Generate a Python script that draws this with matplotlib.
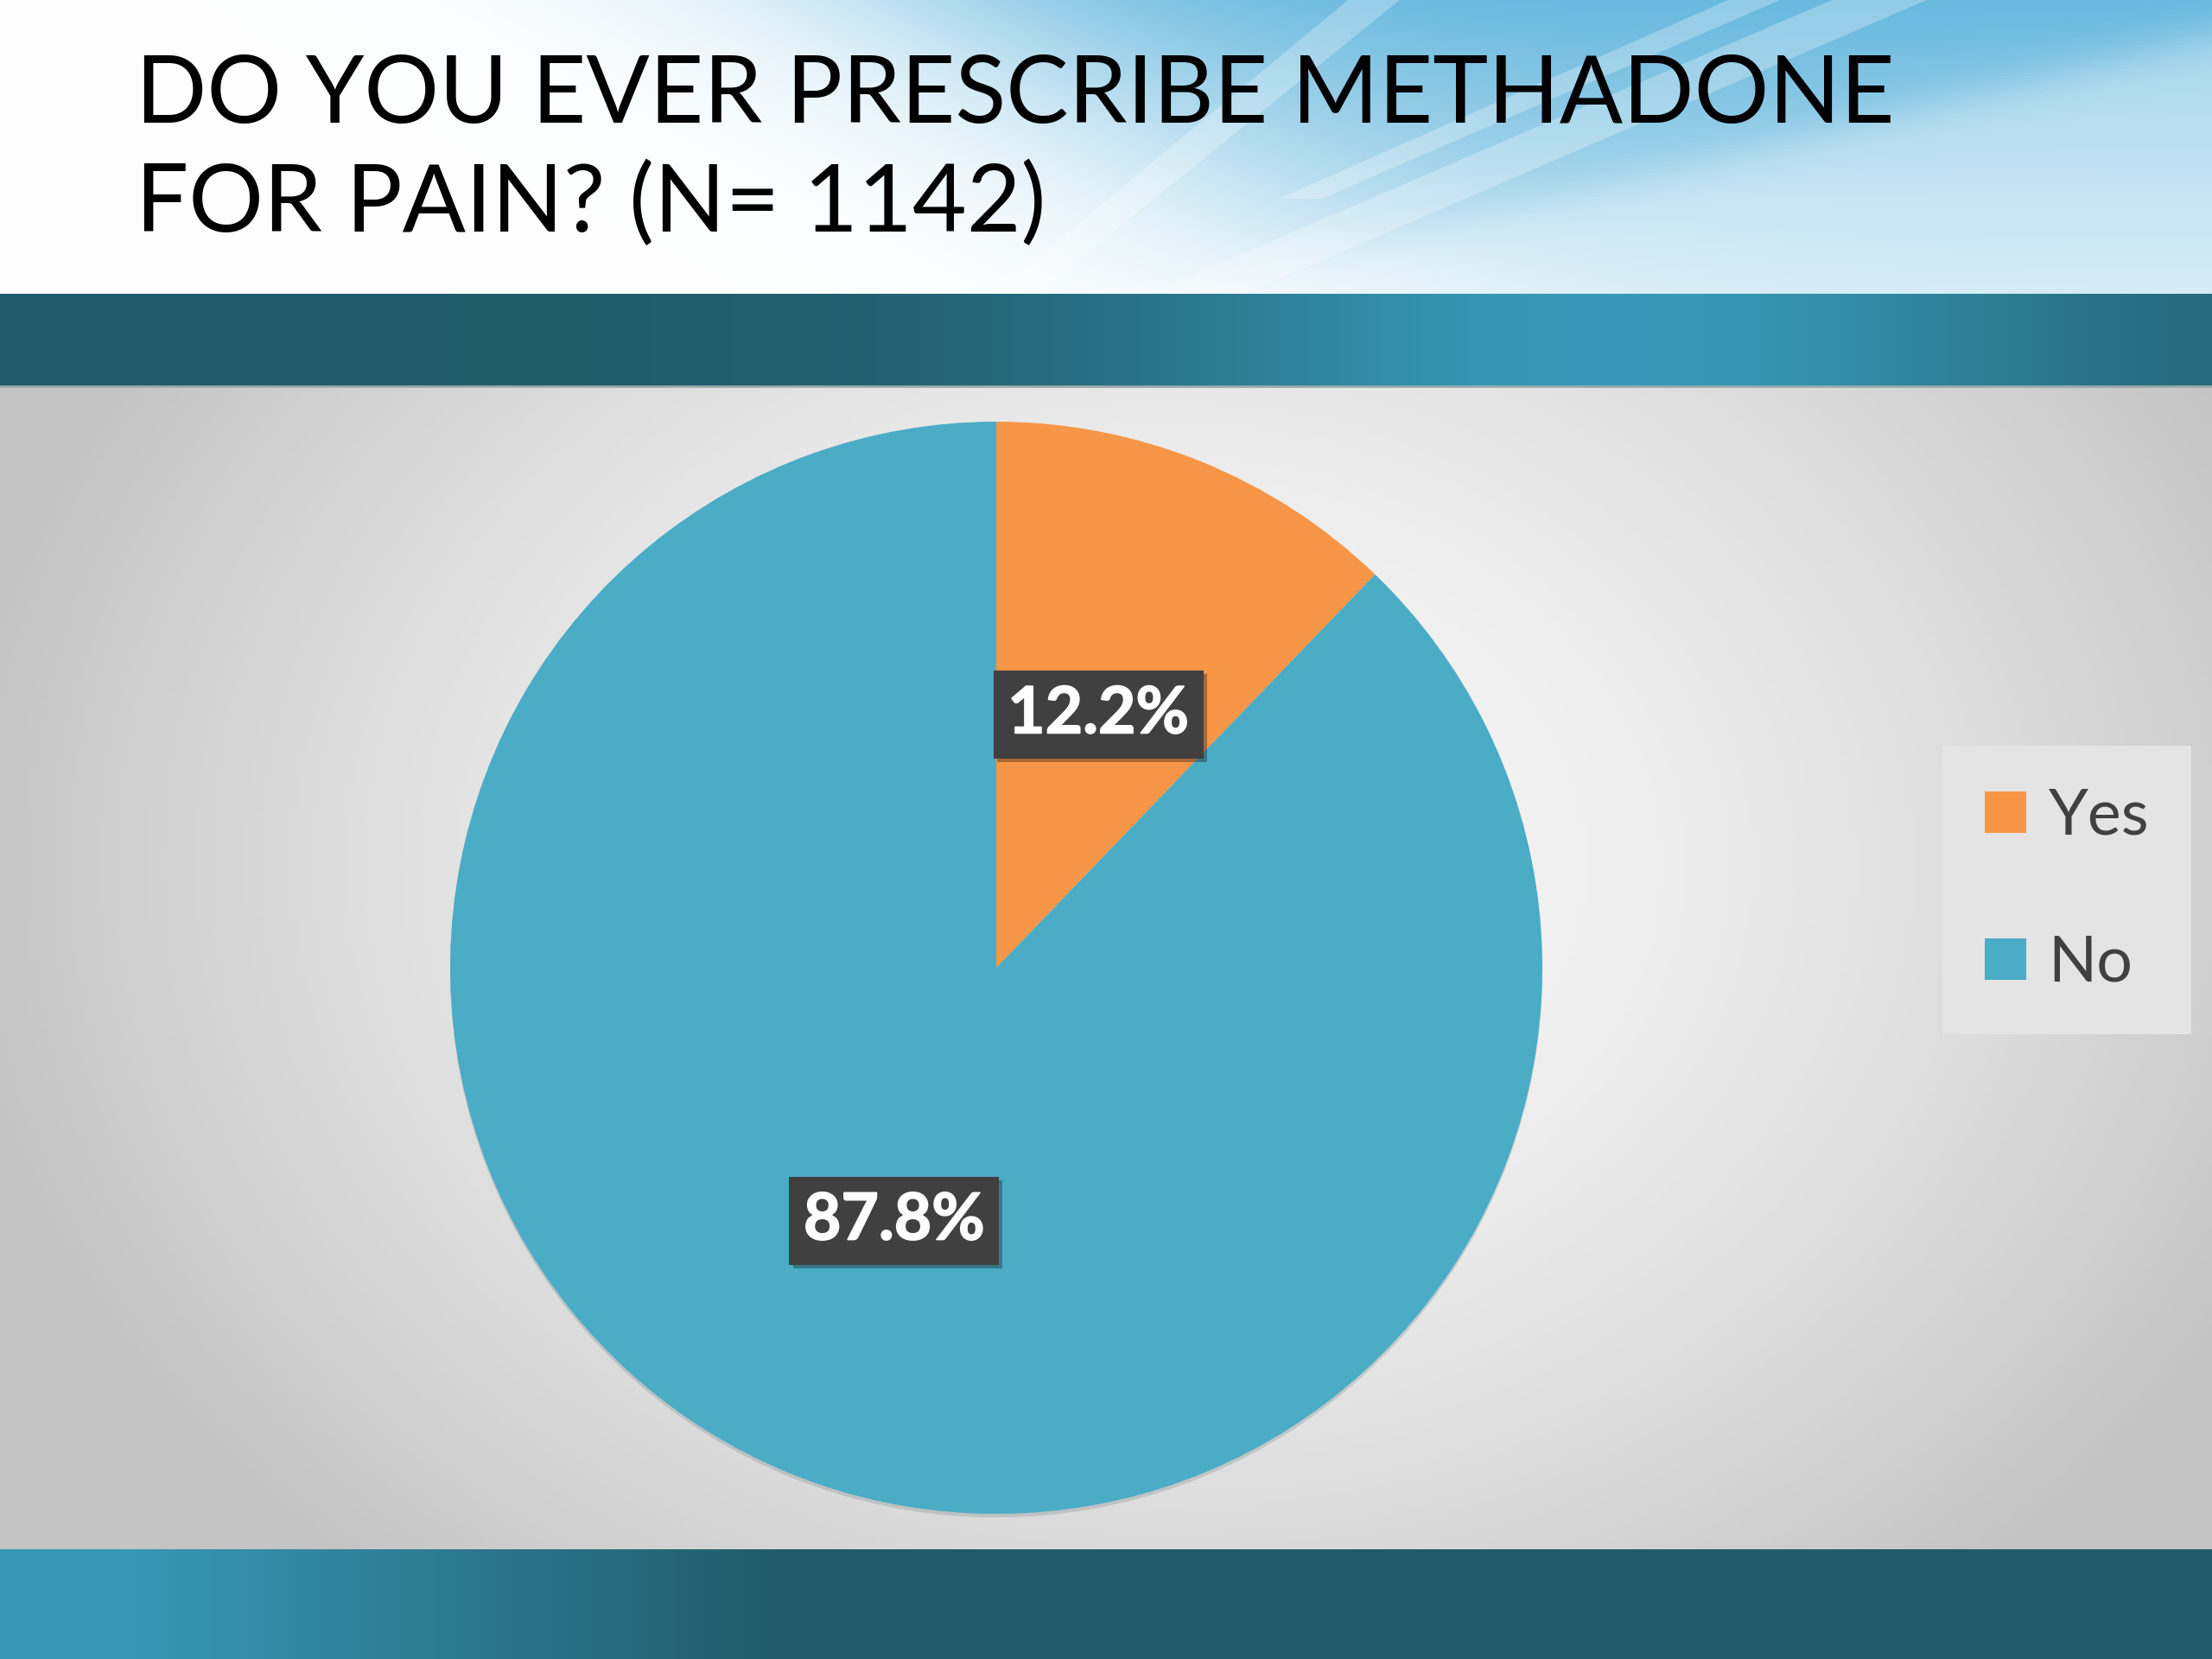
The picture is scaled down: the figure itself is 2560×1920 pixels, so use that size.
import matplotlib.pyplot as plt
import numpy as np
from matplotlib.lines import Line2D
from matplotlib.patches import Polygon
import matplotlib.patheffects as pe

# Data
categories = ["Yes", "No"]
shares = [12.2, 87.8]
colors = ["#F79646", "#4BACC6"]
title_lines = ["DO YOU EVER PRESCRIBE METHADONE", "FOR PAIN? (N= 1142)"]

W, H = 2560, 1920
fig = plt.figure(figsize=(25.6, 19.2), dpi=100)

# ---- slide background ----
bg = fig.add_axes([0, 0, 1, 1])
bg.set_xlim(0, W)
bg.set_ylim(H, 0)
bg.axis("off")

# header: white fading into light blue towards the top right
xx, yy = np.meshgrid(np.linspace(0, W, 640), np.linspace(0, 340, 85))
blue = np.array([0.36, 0.70, 0.86])
sx = 1 / (1 + np.exp(-(xx - 1080 - 1.5 * yy) / 170))
t = sx * (0.92 - 0.5 * yy / 340)
# paler region below the diagonal in the lower right
lo = 1 / (1 + np.exp(-(yy - (257 - (xx - 1696) * 0.25)) / 15))
t = t * (1 - 0.4 * lo)
t = np.clip(t, 0, 1)[..., None]
header = (1 - t) * np.ones(3) + t * blue
bg.imshow(header, extent=[0, W, 340, 0], aspect="auto", zorder=0)

# light beams
beams = [
    [(1330, 340), (1440, 340), (2230, 0), (2120, 0)],
    [(1150, 340), (1200, 340), (1620, 0), (1560, 0)],
    [(1480, 230), (1530, 230), (2060, 0), (2000, 0)],
]
for b in beams:
    bg.add_patch(Polygon(b, closed=True, facecolor="white", edgecolor="none",
                         alpha=0.28, zorder=0.5))

# top teal band
xb = np.linspace(0, 1, 640)
dark = np.array([0.13, 0.36, 0.42])
light = np.array([0.22, 0.60, 0.72])
k = np.exp(-((xb - 0.73) / 0.22) ** 2)
band = (1 - k)[:, None] * dark + k[:, None] * light
band = np.repeat(band[None, :, :], 4, axis=0)
bg.imshow(band, extent=[0, W, 447, 340], aspect="auto", zorder=1)

# bottom teal band
k2 = np.clip(1 - (xb - 0.05) / 0.30, 0, 1)
band2 = (1 - k2)[:, None] * dark + k2[:, None] * light
band2 = np.repeat(band2[None, :, :], 4, axis=0)
bg.imshow(band2, extent=[0, W, H, 1793], aspect="auto", zorder=1)

# gray panel with soft radial highlight
px, py = np.meshgrid(np.linspace(0, W, 512), np.linspace(447, 1793, 270))
r = np.sqrt(((px - 1350) / 1400) ** 2 + ((py - 1000) / 1100) ** 2)
g = 0.98 - 0.21 * np.clip(r, 0, 1) ** 1.6
panel = np.dstack([g, g, g])
bg.imshow(panel, extent=[0, W, 1793, 447], aspect="auto", zorder=1)
bg.axhline(447, color="#9aa9ae", lw=2, zorder=2)

# ---- title ----
for line, base in zip(title_lines, [142, 268]):
    fig.text(157 / W, 1 - base / H, line, ha="left", va="baseline", fontsize=78,
             family="Lato", color="black")

# ---- pie ----
R = 632
cx, cy = 1153, 1120
ax = fig.add_axes([(cx - R) / W, (H - cy - R) / H, 2 * R / W, 2 * R / H])
wedges, texts, autotexts = ax.pie(
    shares, colors=colors, startangle=90, counterclock=False,
    autopct="%1.1f%%", pctdistance=0.5, radius=1.0,
    wedgeprops=dict(linewidth=0),
    textprops=dict(color="white", fontsize=54, fontweight="bold", family="Lato"))
for w in wedges:
    w.set_path_effects([pe.SimplePatchShadow(offset=(0, -3), alpha=0.15), pe.Normal()])
for at in autotexts:
    at.set_bbox(dict(boxstyle="square,pad=0.22", facecolor="#404040", edgecolor="none"))
    at.get_bbox_patch().set_path_effects(
        [pe.SimplePatchShadow(offset=(3, -3), alpha=0.35), pe.Normal()])
    at.set_path_effects([pe.withStroke(linewidth=1.2, foreground="white")])
ax.set_xlim(-1, 1)
ax.set_ylim(-1, 1)
ax.set_aspect("equal")
ax.axis("off")

# ---- legend ----
handles = [Line2D([], [], marker="s", ls="", markersize=35, color=c, markeredgewidth=0)
           for c in colors]
leg = fig.legend(handles, categories, loc="center",
                 bbox_to_anchor=(2392 / W, 1 - 1030 / H), bbox_transform=fig.transFigure,
                 frameon=True, fancybox=False, facecolor="#E4E4E4", edgecolor="none",
                 framealpha=1, prop=dict(family="Lato", size=53),
                 labelcolor="#404040", handlelength=0.65, handletextpad=0.35,
                 labelspacing=1.4, borderpad=0.66, borderaxespad=0)

fig.savefig("out.png", dpi=100)
